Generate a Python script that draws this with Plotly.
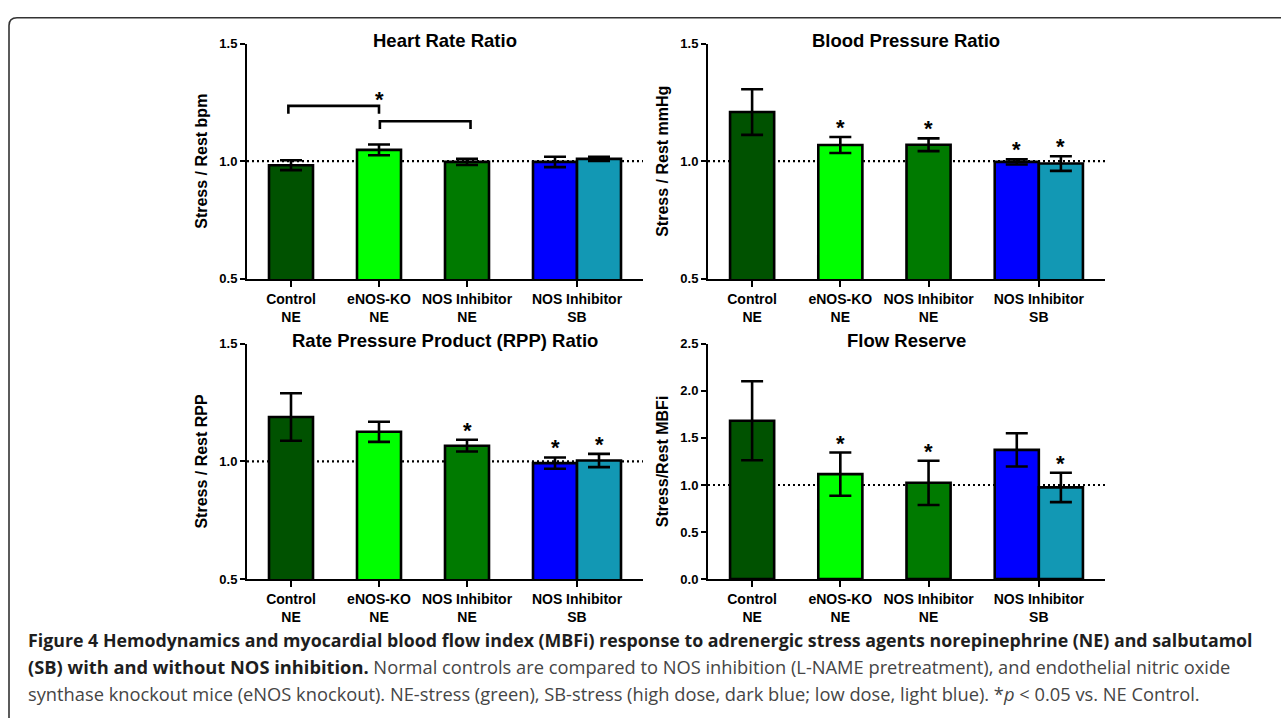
import plotly.graph_objects as go

W, H = 1281, 718

# ---------------- data ----------------
group_labels = ["Control<br>NE", "eNOS-KO<br>NE", "NOS Inhibitor<br>NE", "NOS Inhibitor<br>SB"]
bar_names = ["Control NE", "eNOS-KO NE", "NOS Inhibitor NE", "NOS Inhibitor SB (high dose)", "NOS Inhibitor SB (low dose)"]
bar_colors = ["#005200", "#00ff00", "#007a00", "#0000ff", "#1298b4"]

hr_mean = [0.983, 1.048, 0.997, 0.997, 1.010]
hr_err = [0.021, 0.023, 0.013, 0.022, 0.009]
hr_sig = [0, 0, 0, 0, 0]

bp_mean = [1.209, 1.069, 1.070, 0.997, 0.990]
bp_err = [0.097, 0.034, 0.027, 0.011, 0.031]
bp_sig = [0, 1, 1, 1, 1]

rpp_mean = [1.189, 1.126, 1.067, 0.993, 1.004]
rpp_err = [0.101, 0.043, 0.025, 0.024, 0.028]
rpp_sig = [0, 0, 1, 1, 1]

fr_mean = [1.682, 1.115, 1.023, 1.373, 0.974]
fr_err = [0.420, 0.230, 0.235, 0.177, 0.156]
fr_sig = [0, 1, 1, 0, 1]

# heart-rate comparison brackets: (left x, right x, height)
hr_brackets = [(-0.03, 1.0, 1.235), (1.01, 2.04, 1.17)]
hr_bracket_star = (1.0, 1.28)

panel_titles = ["Heart Rate Ratio", "Blood Pressure Ratio", "Rate Pressure Product (RPP) Ratio", "Flow Reserve"]
y_titles = ["Stress / Rest bpm", "Stress / Rest mmHg", "Stress / Rest RPP", "Stress/Rest MBFi"]
y_ticks_ratio = [0.5, 1.0, 1.5]
y_ticks_flow = [0.0, 0.5, 1.0, 1.5, 2.0, 2.5]

# ---------------- layout constants ----------------
bar_slots = [0, 1, 2, 3, 3.5]
group_ticks = [0, 1, 2, 3.25]
bar_width = 0.5

def fx(p):
    return p / W

def fy(p):
    return 1 - p / H

panels = [
    dict(mean=hr_mean, err=hr_err, sig=hr_sig, xd=(247, 643), yd=(37.3, 277.7), yr=(0.5, 1.5), yt=y_ticks_ratio),
    dict(mean=bp_mean, err=bp_err, sig=bp_sig, xd=(708, 1105), yd=(37.3, 277.7), yr=(0.5, 1.5), yt=y_ticks_ratio),
    dict(mean=rpp_mean, err=rpp_err, sig=rpp_sig, xd=(247, 643), yd=(344, 584.3), yr=(0.5, 1.5), yt=y_ticks_ratio),
    dict(mean=fr_mean, err=fr_err, sig=fr_sig, xd=(708, 1105), yd=(344, 584.3), yr=(0.0, 2.5), yt=y_ticks_flow),
]

FONT = "Liberation Sans, Arial, sans-serif"
fig = go.Figure()
annotations = []
shapes = []

for i, p in enumerate(panels):
    n = i + 1
    xa = "x" if n == 1 else f"x{n}"
    ya = "y" if n == 1 else f"y{n}"
    fig.add_trace(go.Bar(
        x=bar_slots, y=p["mean"], width=bar_width,
        marker=dict(color=bar_colors, line=dict(color="black", width=2.6)),
        error_y=dict(type="data", array=p["err"], visible=True, color="black", thickness=2.6, width=11),
        xaxis=xa, yaxis=ya, showlegend=False, hovertext=bar_names,
    ))
    fig.update_layout(**{
        ("xaxis" if n == 1 else f"xaxis{n}"): dict(
            domain=[fx(p["xd"][0]), fx(p["xd"][1])], range=[-0.5, 4.0], anchor=ya,
            showline=True, linecolor="black", linewidth=2, ticks="outside", ticklen=6, tickwidth=2,
            tickcolor="black", tickvals=group_ticks, ticktext=group_labels, showgrid=False, zeroline=False,
            tickfont=dict(family=FONT, size=14, color="black", weight="bold"), fixedrange=True,
        ),
        ("yaxis" if n == 1 else f"yaxis{n}"): dict(
            domain=[fy(p["yd"][1]), fy(p["yd"][0])], range=list(p["yr"]), anchor=xa,
            showline=True, linecolor="black", linewidth=2, ticks="outside", ticklen=5, tickwidth=2,
            tickcolor="black", tickvals=p["yt"], ticktext=[f"{v:.1f}" for v in p["yt"]],
            showgrid=False, zeroline=False, fixedrange=True,
            tickfont=dict(family=FONT, size=13, color="black", weight="bold"),
            title=dict(text=y_titles[i], font=dict(family=FONT, size=16, color="black", weight="bold"), standoff=8),
        ),
    })
    # reference line at 1.0
    shapes.append(dict(type="line", xref=f"{xa} domain", yref=ya, x0=0, x1=1, y0=1.0, y1=1.0,
                       line=dict(color="black", width=2.2, dash="2px,3px"), layer="below"))
    # title
    annotations.append(dict(text=panel_titles[i], xref=f"{xa} domain", yref=f"{ya} domain", x=0.5, y=1,
                            xanchor="center", yanchor="middle", yshift=3, showarrow=False,
                            font=dict(family=FONT, size=18.5, color="black", weight="bold")))
    # significance stars
    for k in range(len(bar_slots)):
        if p["sig"][k]:
            annotations.append(dict(text="*", xref=xa, yref=ya, x=bar_slots[k], y=p["mean"][k] + p["err"][k],
                                    xanchor="center", yanchor="bottom", yshift=-5, showarrow=False,
                                    font=dict(family=FONT, size=22, color="black", weight="bold")))

# brackets in heart rate panel
for (a, b, h) in hr_brackets:
    drop = 0.033
    shapes.append(dict(type="path", xref="x", yref="y",
                       path=f"M {a},{h - drop} L {a},{h} L {b},{h} L {b},{h - drop}",
                       line=dict(color="black", width=2.6)))
annotations.append(dict(text="*", xref="x", yref="y", x=hr_bracket_star[0], y=hr_bracket_star[1],
                        xanchor="center", yanchor="middle", yshift=-4, showarrow=False,
                        font=dict(family=FONT, size=22, color="black", weight="bold")))

# caption
CAP = "Open Sans, Noto Sans, sans-serif"
BOLD = '<b><span style="color:#1e1e1e">{}</span></b>'
cap_lines = [
    (BOLD.format("Figure 4 Hemodynamics and myocardial blood flow index (MBFi) response to adrenergic stress agents norepinephrine (NE) and salbutamol"), 646, 17.8),
    (BOLD.format("(SB) with and without NOS inhibition.") + " Normal controls are compared to NOS inhibition (L-NAME pretreatment), and endothelial nitric oxide", 674, 18.3),
    ("synthase knockout mice (eNOS knockout). NE-stress (green), SB-stress (high dose, dark blue; low dose, light blue). *<i>p</i> &lt; 0.05 vs. NE Control.", 701, 18.3),
]
for txt, yy, fs in cap_lines:
    annotations.append(dict(text=txt, xref="paper", yref="paper", x=fx(26), y=fy(yy), xanchor="left",
                            yanchor="middle", showarrow=False, align="left",
                            font=dict(family=CAP, size=fs, color="#454545")))

# frame border (rounded top-left corner)
shapes.append(dict(type="path", xref="paper", yref="paper",
                   path=f"M {fx(9)},{fy(730)} L {fx(9)},{fy(19)} Q {fx(9)},{fy(11)} {fx(17)},{fy(11)} L {fx(1300)},{fy(11)}",
                   line=dict(color="#333333", width=1.6)))

fig.update_layout(width=W, height=H, margin=dict(l=0, r=0, t=0, b=0),
                  paper_bgcolor="white", plot_bgcolor="rgba(0,0,0,0)",
                  annotations=annotations, shapes=shapes, bargap=0, showlegend=False)

fig.write_html("out.html", config={"displayModeBar": False, "staticPlot": True},
               post_script="document.body.style.margin='0';document.body.style.padding='0';"
                           "document.body.style.overflow='hidden';"
                           "document.documentElement.style.overflow='hidden';")
